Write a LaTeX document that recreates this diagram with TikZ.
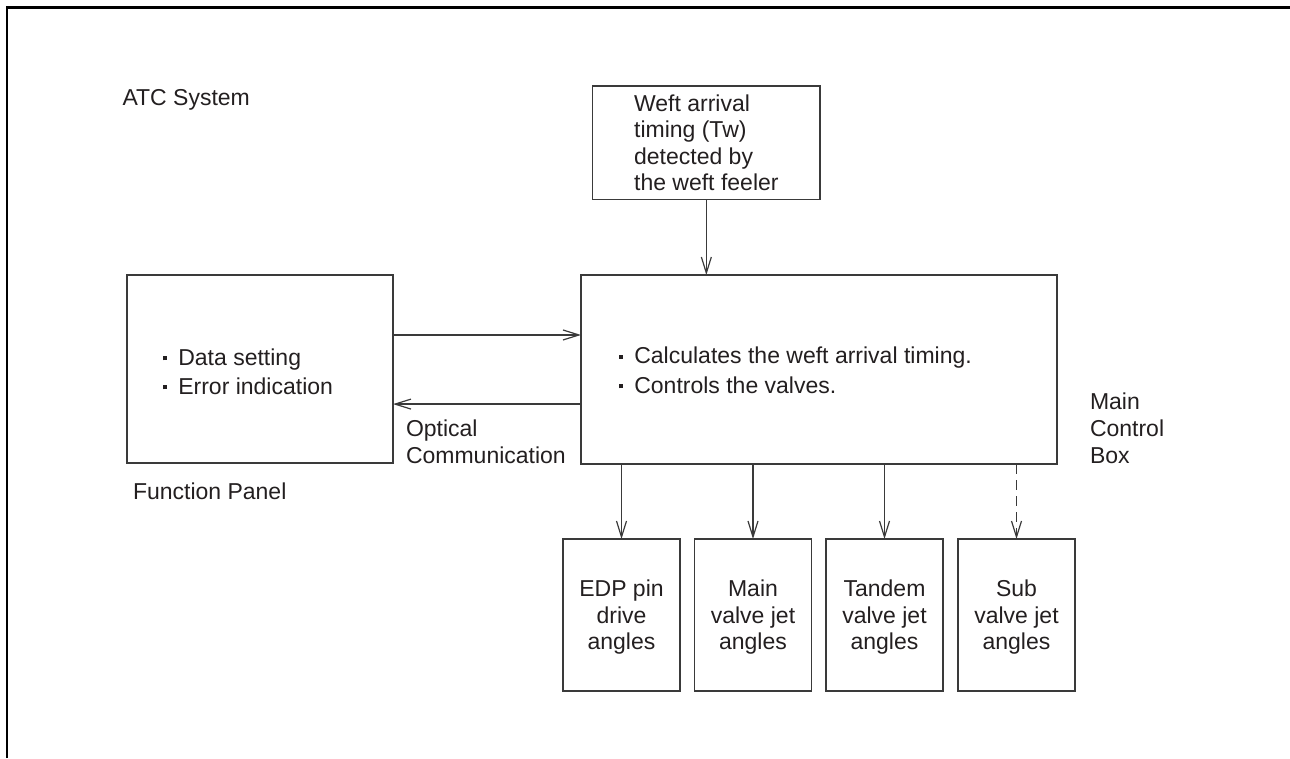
\documentclass[tikz,border=0pt]{standalone}
\usepackage{fontspec}
\setmainfont{Liberation Sans}
\usetikzlibrary{arrows.meta,calc}
\definecolor{ln}{HTML}{3A3A3A}
\definecolor{tx}{HTML}{231F20}
\newcommand{\sqb}{\rule[3.5pt]{3pt}{3pt}\hspace{8.5pt}}
\begin{document}
\begin{tikzpicture}[x=0.75pt,y=-0.75pt,
  every node/.style={inner sep=0pt,outer sep=0pt,text=tx,font=\fontsize{17.25pt}{19.9pt}\selectfont},
  boxnode/.style={draw=ln,line width=0.9pt,rectangle},
  outbox/.style={boxnode,minimum width=87.75pt,minimum height=114pt,align=center,text depth=0pt},
  arr/.style={draw=ln,line width=0.9pt,-{Straight Barb[length=12pt,width=7.5pt]}},
  lbl/.style={anchor=base west}]
\useasboundingbox (0,0) rectangle (1290,758);
\draw[line width=1.6pt,black] (7,758) -- (7,7.5) -- (1290,7.5);

\node[lbl] (atc) at (122.5,105) {ATC System};

\node[boxnode,minimum width=170.5pt,minimum height=85pt,align=left] (weft) at (706.35,142.65)
  {Weft arrival\\timing (Tw)\\detected by\\the weft feeler};

\node[boxnode,minimum width=199.5pt,minimum height=141pt] (fp) at (260,369) {};
\node[lbl] (fp1) at (163,365) {\sqb Data setting};
\node[lbl] (fp2) at (163,394) {\sqb Error indication};
\node[lbl] (fplab) at (133,499) {Function Panel};

\node[boxnode,minimum width=357pt,minimum height=141.75pt] (main) at (819,369.5) {};
\node[lbl] (mc1) at (619,363.5) {\sqb Calculates the weft arrival timing.};
\node[lbl] (mc2) at (619,393) {\sqb Controls the valves.};
\node[anchor=north west,align=left,font=\fontsize{17.25pt}{20.25pt}\selectfont] (mclab) at (1090,392.5) {Main\\Control\\Box};

\node[anchor=north west,align=left] (opt) at (406,420) {Optical\\Communication};

\node[outbox] (b1) at (621.5,615) {EDP pin\\drive\\angles};
\node[outbox] (b2) at (753,615) {Main\\valve jet\\angles};
\node[outbox] (b3) at (884.5,615) {Tandem\\valve jet\\angles};
\node[outbox] (b4) at (1016.5,615) {Sub\\valve jet\\angles};

\draw[arr] (weft.south) -- (weft.south |- main.north);
\coordinate (a1) at ($(fp.north east)!0.319!(fp.south east)$);
\draw[arr] (a1) -- (a1 -| main.west);
\coordinate (a2) at ($(main.north west)!0.683!(main.south west)$);
\draw[arr] (a2) -- (a2 -| fp.east);
\draw[arr] (b1.north |- main.south) -- (b1.north);
\draw[arr] (b2.north |- main.south) -- (b2.north);
\draw[arr] (b3.north |- main.south) -- (b3.north);
\draw[arr,dash pattern=on 7.5pt off 4.5pt] (b4.north |- main.south) -- (b4.north);
\end{tikzpicture}
\end{document}
